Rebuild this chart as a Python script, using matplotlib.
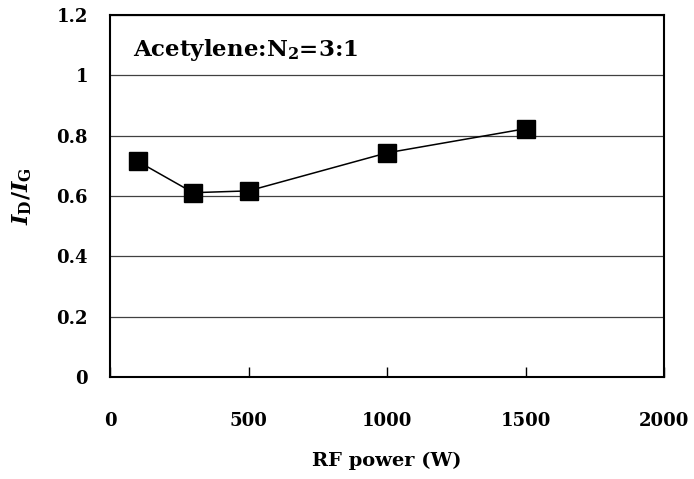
import matplotlib
matplotlib.use("Agg")
import matplotlib.pyplot as plt

power = [100, 300, 500, 1000, 1500]
ratio = [0.715, 0.611, 0.617, 0.743, 0.823]
xticks = [0, 500, 1000, 1500, 2000]
yticks = [0, 0.2, 0.4, 0.6, 0.8, 1.0, 1.2]
ytick_labels = ["0", "0.2", "0.4", "0.6", "0.8", "1", "1.2"]

FONT = 'DejaVu Serif'
plt.rcParams['font.family'] = [FONT, 'Liberation Serif']
plt.rcParams['font.weight'] = 'bold'
plt.rcParams['mathtext.fontset'] = 'custom'
plt.rcParams['mathtext.rm'] = FONT + ':bold'
plt.rcParams['mathtext.it'] = FONT + ':bold:italic'
plt.rcParams['mathtext.bf'] = FONT + ':bold'

fig = plt.figure(figsize=(6.94, 4.79), dpi=100)
ax = fig.add_axes([0.1585, 0.2129, 0.9568 - 0.1585, 0.9687 - 0.2129])

ax.plot(power, ratio, color='black', lw=1.1, marker='s', markersize=13.5,
        markerfacecolor='black', markeredgecolor='black', zorder=3)

ax.set_xlim(0, 2000)
ax.set_ylim(0, 1.2)
ax.set_xticks(xticks)
ax.set_xticklabels([str(t) for t in xticks], fontsize=13, fontweight='bold')
ax.set_yticks(yticks)
ax.set_yticklabels(ytick_labels, fontsize=13, fontweight='bold')
ax.tick_params(axis='x', direction='in', length=7, width=1, pad=25)
ax.tick_params(axis='y', length=0, pad=16)
ax.yaxis.grid(True, color='#404040', lw=0.9)
ax.set_axisbelow(True)
for s in ax.spines.values():
    s.set_linewidth(1.5)
    s.set_color('black')

ax.set_xlabel('RF power (W)', fontsize=14, fontweight='bold', labelpad=16)
ax.set_ylabel(r'$I_{\rm D}/I_{\rm G}$', fontsize=16, labelpad=16)

ax.text(0.042, 0.903, r'Acetylene:N$_2$=3:1', transform=ax.transAxes,
        fontsize=16.5, fontweight='bold', va='center', ha='left')

fig.savefig('out.png', dpi=100)
